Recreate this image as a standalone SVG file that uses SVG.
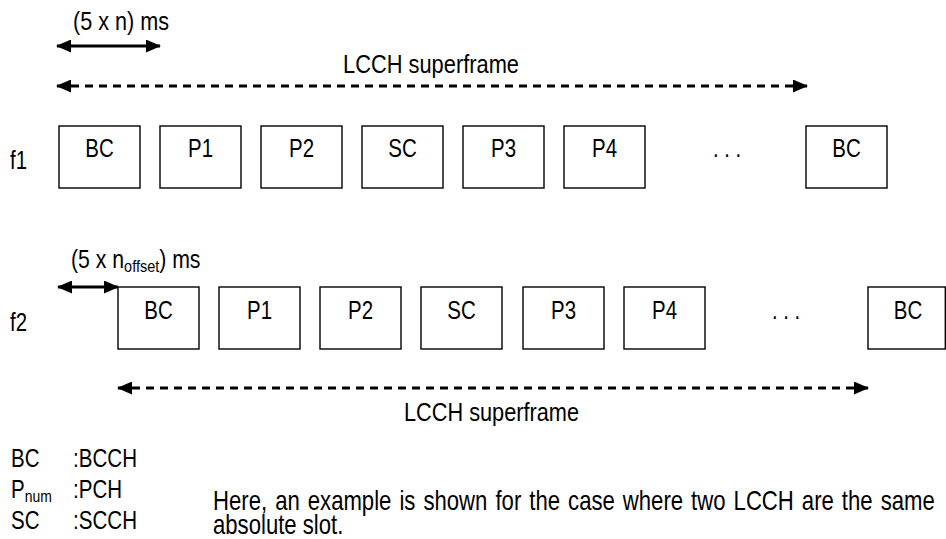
<svg xmlns="http://www.w3.org/2000/svg" width="946" height="539" viewBox="0 0 946 539">
<style>
  text { font-family: "Liberation Sans", Arial, sans-serif; font-size: 25px; fill: #000; }
  .mid { text-anchor: middle; }
  .para { font-size: 27px; }
  .box rect { fill: #fff; stroke: #000; stroke-width: 1.4; }
  .solid { stroke: #000; stroke-width: 3; fill: none; }
  .dash { stroke: #000; stroke-width: 2.8; fill: none; stroke-dasharray: 8 6; }
</style>
<defs>
  <marker id="ah" markerWidth="15" markerHeight="13" refX="14" refY="6.5" orient="auto-start-reverse" markerUnits="userSpaceOnUse">
    <path d="M0,0 L15,6.5 L0,13 Z" fill="#000"/>
  </marker>
</defs>

<g id="labels">
  <text x="73" y="30" textLength="96" lengthAdjust="spacingAndGlyphs">(5 x n) ms</text>
  <text x="343" y="73" textLength="176" lengthAdjust="spacingAndGlyphs">LCCH superframe</text>
  <text x="10" y="169" textLength="17" lengthAdjust="spacingAndGlyphs">f1</text>
  <text transform="translate(71,268) scale(0.85,1)">(5 x n<tspan style="font-size:17px" dy="4">offset</tspan><tspan dy="-4">) ms</tspan></text>
  <text x="10" y="331" textLength="17" lengthAdjust="spacingAndGlyphs">f2</text>
  <text x="404" y="421" textLength="175" lengthAdjust="spacingAndGlyphs">LCCH superframe</text>
</g>

<g id="connectors">
  <line class="solid" x1="57" y1="46" x2="160" y2="46" marker-start="url(#ah)" marker-end="url(#ah)"/>
  <line class="dash" x1="57" y1="86" x2="807" y2="86" marker-start="url(#ah)" marker-end="url(#ah)"/>
  <line class="solid" x1="58" y1="287" x2="118" y2="287" marker-start="url(#ah)" marker-end="url(#ah)"/>
  <line class="dash" x1="118" y1="388" x2="868" y2="388" marker-start="url(#ah)" marker-end="url(#ah)"/>
</g>

<g id="row1">
  <g id="f1-bc1" class="box"><rect x="59" y="126" width="81" height="62"/><text class="mid" x="99.5" y="157" textLength="28.5" lengthAdjust="spacingAndGlyphs">BC</text></g>
  <g id="f1-p1" class="box"><rect x="160" y="126" width="81" height="62"/><text class="mid" x="200.5" y="157" textLength="25" lengthAdjust="spacingAndGlyphs">P1</text></g>
  <g id="f1-p2" class="box"><rect x="261" y="126" width="81" height="62"/><text class="mid" x="301.5" y="157" textLength="25" lengthAdjust="spacingAndGlyphs">P2</text></g>
  <g id="f1-sc" class="box"><rect x="362" y="126" width="81" height="62"/><text class="mid" x="402.5" y="157" textLength="28.5" lengthAdjust="spacingAndGlyphs">SC</text></g>
  <g id="f1-p3" class="box"><rect x="463" y="126" width="81" height="62"/><text class="mid" x="503.5" y="157" textLength="25" lengthAdjust="spacingAndGlyphs">P3</text></g>
  <g id="f1-p4" class="box"><rect x="564" y="126" width="81" height="62"/><text class="mid" x="604.5" y="157" textLength="25" lengthAdjust="spacingAndGlyphs">P4</text></g>
  <text class="mid" x="727" y="157" textLength="28" lengthAdjust="spacingAndGlyphs">. . .</text>
  <g id="f1-bc2" class="box"><rect x="806" y="126" width="81" height="62"/><text class="mid" x="846.5" y="157" textLength="28.5" lengthAdjust="spacingAndGlyphs">BC</text></g>
</g>

<g id="row2">
  <g id="f2-bc1" class="box"><rect x="118" y="287" width="81" height="62"/><text class="mid" x="158.5" y="319" textLength="28.5" lengthAdjust="spacingAndGlyphs">BC</text></g>
  <g id="f2-p1" class="box"><rect x="219" y="287" width="81" height="62"/><text class="mid" x="259.5" y="319" textLength="25" lengthAdjust="spacingAndGlyphs">P1</text></g>
  <g id="f2-p2" class="box"><rect x="320" y="287" width="81" height="62"/><text class="mid" x="360.5" y="319" textLength="25" lengthAdjust="spacingAndGlyphs">P2</text></g>
  <g id="f2-sc" class="box"><rect x="421" y="287" width="81" height="62"/><text class="mid" x="461.5" y="319" textLength="28.5" lengthAdjust="spacingAndGlyphs">SC</text></g>
  <g id="f2-p3" class="box"><rect x="523" y="287" width="81" height="62"/><text class="mid" x="563.5" y="319" textLength="25" lengthAdjust="spacingAndGlyphs">P3</text></g>
  <g id="f2-p4" class="box"><rect x="624" y="287" width="81" height="62"/><text class="mid" x="664.5" y="319" textLength="25" lengthAdjust="spacingAndGlyphs">P4</text></g>
  <text class="mid" x="786" y="319" textLength="28" lengthAdjust="spacingAndGlyphs">. . .</text>
  <g id="f2-bc2" class="box"><rect x="868" y="287" width="77.3" height="62"/><text class="mid" x="908" y="319" textLength="28.5" lengthAdjust="spacingAndGlyphs">BC</text></g>
</g>

<g id="legend">
  <text x="11" y="467" textLength="28.5" lengthAdjust="spacingAndGlyphs">BC</text>
  <text x="73" y="467" textLength="64" lengthAdjust="spacingAndGlyphs">:BCCH</text>
  <text transform="translate(11,498) scale(0.82,1)">P<tspan style="font-size:17px" dy="4">num</tspan></text>
  <text x="73" y="498" textLength="49" lengthAdjust="spacingAndGlyphs">:PCH</text>
  <text x="11" y="529" textLength="28.5" lengthAdjust="spacingAndGlyphs">SC</text>
  <text x="73" y="529" textLength="64" lengthAdjust="spacingAndGlyphs">:SCCH</text>
  <text class="para" transform="translate(213,510) scale(0.82,1)"><tspan x="0" y="0" word-spacing="2.3">Here, an example is shown for the case where two LCCH are the same</tspan><tspan x="0" y="24">absolute slot.</tspan></text>
</g>
</svg>
